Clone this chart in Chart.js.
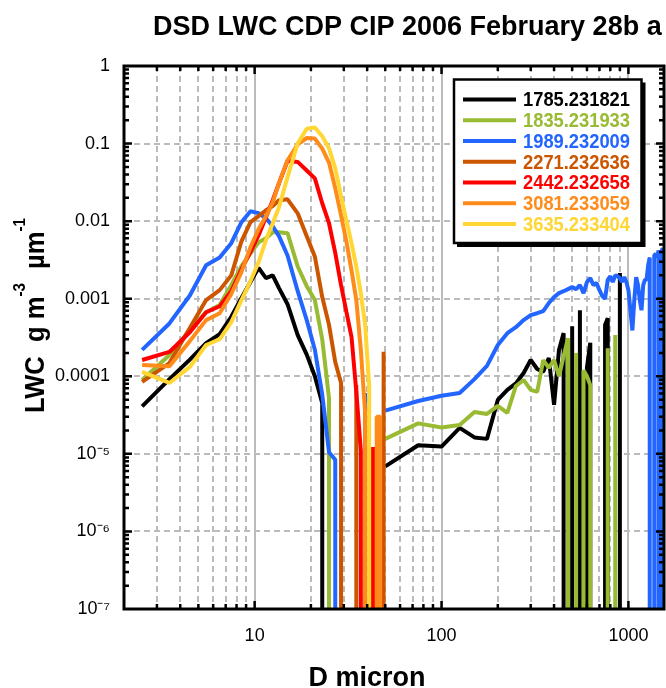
<!DOCTYPE html>
<html>
<head>
<meta charset="utf-8">
<title>DSD LWC CDP CIP 2006 February 28b</title>
<script src="https://cdn.jsdelivr.net/npm/chart.js@4.4.1/dist/chart.umd.min.js"></script>
<style>
  html, body { margin: 0; padding: 0; background: #ffffff; overflow: hidden; }
  #wrap { position: relative; width: 666px; height: 688px; }
  canvas { display: block; }
</style>
</head>
<body>
<div id="wrap"><canvas id="lwc" width="666" height="688"></canvas></div>
<script>
// ---- size bins (micron) ----
const CDP_SIZES = [2.5, 3.5, 4.5, 5.5, 6.5, 7.5, 8.5, 9.5, 10.5, 11.5, 12.5, 13.5,
  15, 17, 19, 21, 23, 25, 27, 29, 31, 33, 35, 37, 39, 41, 43, 45, 47, 49];

const CIP_SIZES = [50, 75, 100, 125, 150, 175, 200, 225, 250, 275,
  300, 325, 350, 375, 400, 425, 450, 475, 500, 525,
  550, 575, 600, 625, 650, 675, 700, 725, 750, 775,
  800, 825, 850, 875, 900, 925, 950, 975, 1000, 1025,
  1050, 1075, 1100, 1125, 1150, 1175, 1200, 1225, 1250, 1275,
  1300, 1325, 1350, 1375, 1400, 1425, 1450, 1475, 1500, 1525,
  1550];

// ---- series (flight time . hhmmss) ----
const SERIES_LABELS = ['1785.231821', '1835.231933', '1989.232009', '2271.232636',
  '2442.232658', '3081.233059', '3635.233404'];
const SERIES_COLORS = ['#000000', '#99bb33', '#2266ff', '#cc5500', '#ff0000', '#ff8c1a', '#ffd633'];

// LWC per size, g m^-3 um^-1 (0 = empty bin)
const CDP_1785 = [4.1e-5, 9.2e-5, 1.64e-4, 2.68e-4, 3.5e-4, 5.85e-4, 1.02e-3, 1.64e-3, 2.5e-3, 1.84e-3,
  2.0e-3, 1.37e-3, 8.5e-4, 3.4e-4, 1.9e-4, 1.0e-4, 4.5e-5, 0, 0, 0,
  0, 0, 0, 0, 0, 0, 0, 0, 0, 0];
const CDP_1835 = [8.95e-5, 1.88e-4, 3.95e-4, 6.7e-4, 8.3e-4, 1.5e-3, 2.63e-3, 3.86e-3, 5.35e-3, 6.0e-3,
  7.2e-3, 7.2e-3, 7.0e-3, 2.6e-3, 1.45e-3, 9.6e-4, 3.0e-4, 5.2e-5, 0, 0,
  0, 0, 0, 0, 0, 0, 0, 0, 0, 0];
const CDP_1989 = [2.19e-4, 4.8e-4, 1.1e-3, 2.7e-3, 3.4e-3, 5.2e-3, 9.7e-3, 0.0134, 0.0127, 0.0109,
  8.6e-3, 6.4e-3, 3.6e-3, 1.25e-3, 5.3e-4, 2.2e-4, 5.8e-5, 1.05e-5, 8.4e-6, 0,
  0, 0, 0, 0, 6.1e-5, 0, 0, 0, 0, 0];
const CDP_2271 = [8.45e-5, 1.48e-4, 4.2e-4, 9.6e-4, 1.29e-3, 2.0e-3, 5.5e-3, 9.7e-3, 0.0116, 0.0138,
  0.0156, 0.0186, 0.0191, 0.0126, 6.4e-3, 3.5e-3, 1.05e-3, 4.6e-4, 1.53e-4, 8.2e-5,
  0, 0, 7.7e-5, 0, 0, 0, 0, 0, 0, 2.07e-4];
const CDP_2442 = [1.62e-4, 2.06e-4, 3.7e-4, 6.7e-4, 8.0e-4, 1.25e-3, 2.4e-3, 4.0e-3, 6.6e-3, 0.0112,
  0.0186, 0.0308, 0.060, 0.058, 0.045, 0.0356, 0.017, 9.4e-3, 3.9e-3, 1.5e-3,
  6.7e-4, 3.2e-4, 6.3e-5, 1.1e-5, 0, 0, 1.23e-5, 0, 1.5e-5, 0];
const CDP_3081 = [1.4e-4, 1.35e-4, 2.84e-4, 5.3e-4, 6.5e-4, 1.15e-3, 2.2e-3, 4.6e-3, 7.9e-3, 0.0116,
  0.0175, 0.031, 0.061, 0.0977, 0.118, 0.116, 0.086, 0.057, 0.0265, 0.0119,
  5.4e-3, 2.3e-3, 9.6e-4, 2.2e-4, 3.4e-5, 0, 0, 3.0e-5, 3.0e-5, 0];
const CDP_3635 = [1.14e-4, 8.2e-5, 1.32e-4, 2.53e-4, 3.0e-4, 5.0e-4, 9.6e-4, 1.69e-3, 2.96e-3, 5.7e-3,
  9.4e-3, 0.0151, 0.037, 0.101, 0.155, 0.161, 0.124, 0.087, 0.048, 0.021,
  0.0101, 5.2e-3, 2.6e-3, 1.18e-3, 4.7e-4, 7.7e-5, 0, 0, 0, 0];

const CIP_1785 = [6.9e-6, 1.29e-5, 1.24e-5, 2.16e-5, 1.63e-5, 1.56e-5, 4.95e-5, 6.7e-5, 8.1e-5, 1.1e-4,
  1.62e-4, 1.24e-4, 1.14e-4, 1.72e-4, 4.3e-5, 2.18e-4, 3.6e-4, 0, 4.4e-4, 0,
  7.1e-4, 0, 1.3e-4, 2.7e-4, 0, 0, 0, 0, 4.6e-4, 5.6e-4,
  0, 0, 0, 0, 2.14e-3, 0, 0, 0, 0, 0,
  0, 0, 0, 0, 0, 0, 0, 0, 0, 0,
  0, 0, 0, 0, 0, 0, 0, 0, 0, 0,
  0];
const CIP_1835 = [1.56e-5, 2.47e-5, 2.19e-5, 2.36e-5, 3.47e-5, 3.27e-5, 4.15e-5, 3.37e-5, 7.5e-5, 8.95e-5,
  6.67e-5, 6.3e-5, 1.62e-4, 1.28e-4, 1.62e-4, 1.0e-4, 1.82e-4, 3.1e-4, 0, 2.0e-4,
  0, 1.2e-4, 1.0e-4, 7.7e-5, 0, 0, 0, 0, 0, 2.3e-4,
  0, 0, 3.4e-4, 0, 0, 0, 0, 0, 0, 0,
  0, 0, 0, 0, 0, 0, 0, 0, 0, 0,
  0, 0, 0, 0, 0, 0, 0, 0, 0, 0,
  0];
const CIP_1989 = [3.6e-5, 4.8e-5, 5.6e-5, 6.1e-5, 9.2e-5, 1.36e-4, 2.53e-4, 3.6e-4, 4.3e-4, 5.3e-4,
  6.15e-4, 6.5e-4, 6.9e-4, 8.8e-4, 1.05e-3, 1.18e-3, 1.25e-3, 1.33e-3, 1.41e-3, 1.33e-3,
  1.5e-3, 1.18e-3, 1.64e-3, 1.84e-3, 1.5e-3, 1.6e-3, 1.29e-3, 1.08e-3, 1.0e-3, 1.75e-3,
  1.95e-3, 1.64e-3, 2.0e-3, 1.95e-3, 1.84e-3, 1.64e-3, 1.9e-3, 1.64e-3, 1.29e-3, 7.1e-4,
  3.9e-4, 9.6e-4, 1.9e-3, 1.5e-3, 9.6e-4, 7.1e-4, 1.5e-3, 1.75e-3, 1.75e-3, 2.7e-3,
  3.4e-3, 0, 0, 3.6e-3, 3.8e-3, 3.4e-3, 4.2e-3, 0, 4.0e-3, 4.5e-3,
  0];

const CDP_VALUES = [CDP_1785, CDP_1835, CDP_1989, CDP_2271, CDP_2442, CDP_3081, CDP_3635];
const CIP_VALUES = [CIP_1785, CIP_1835, CIP_1989, null, null, null, null];

// ---- axes ----
const X_MIN = 2, X_MAX = 1550;
const Y_MIN = 1e-7, Y_MAX = 1;
const X_TICK_VALUES = [10, 100, 1000];
const X_TICK_LABELS = ['10', '100', '1000'];
const Y_TICK_VALUES = [1e-7, 1e-6, 1e-5, 1e-4, 1e-3, 1e-2, 1e-1, 1];
const Y_TICK_LABELS = ['10\u207B\u2077', '10\u207B\u2076', '10\u207B\u2075', '0.0001', '0.001', '0.01', '0.1', '1'];

const TITLE = 'DSD LWC CDP CIP 2006 February 28b a';
const X_TITLE = 'D micron';
const Y_TITLE_PARTS = [['LWC  g m', false], ['-3', true], ['  \u00B5m', false], ['-1', true]];

const FONT = '"Liberation Sans", Arial, Helvetica, sans-serif';

// An empty bin is log(0) = -infinity: the trace drops straight down from its neighbour.
const FLOOR = 1e-12;
function binTrace(sizes, values) {
  const pts = [];
  const last = values.length - 1;
  values.forEach((v, i) => {
    if (v > 0) { pts.push({ x: sizes[i], y: v }); return; }
    if (i > 0 && values[i - 1] > 0) pts.push({ x: sizes[i - 1], y: FLOOR });
    if (i < last && values[i + 1] > 0) pts.push({ x: sizes[i + 1], y: FLOOR });
  });
  return pts;
}
function seriesPoints(cdp, cip) {
  const pts = binTrace(CDP_SIZES, cdp);
  if (cip) {
    pts.push({ x: CIP_SIZES[0], y: null });   // CDP and CIP are separate traces
    pts.push(...binTrace(CIP_SIZES, cip));
  }
  return pts;
}

function logTicks(min, max) {
  const out = [];
  for (let e = Math.floor(Math.log10(min)); e <= Math.ceil(Math.log10(max)); e++) {
    for (let m = 1; m <= 9; m++) {
      const v = m * Math.pow(10, e);
      if (v >= min * 0.999999 && v <= max * 1.000001) out.push(v);
    }
  }
  return out;
}
const isDecade = v => Math.abs(Math.log10(v) - Math.round(Math.log10(v))) < 1e-6;
const sameValue = (a, b) => Math.abs(Math.log10(a) - Math.log10(b)) < 1e-6;
const labelFrom = (values, labels) => v => {
  const j = values.findIndex(t => sameValue(t, v));
  return j < 0 ? '' : labels[j];
};
const tickVal = ctx => (ctx && ctx.tick ? ctx.tick.value : null);

// frame with inward tick marks on all four sides
const framePlugin = {
  id: 'frame',
  afterDatasetsDraw(chart) {
    const { ctx, chartArea: a, scales: { x, y } } = chart;
    ctx.save();
    ctx.strokeStyle = '#000';
    ctx.lineCap = 'butt';
    ctx.lineWidth = 2.5;
    ctx.beginPath();
    x.ticks.forEach(t => {
      const px = x.getPixelForValue(t.value);
      if (px <= a.left + 1 || px >= a.right - 1) return;
      const len = isDecade(t.value) ? 8 : 5;
      ctx.moveTo(px, a.bottom); ctx.lineTo(px, a.bottom - len);
      ctx.moveTo(px, a.top); ctx.lineTo(px, a.top + len);
    });
    y.ticks.forEach(t => {
      const py = y.getPixelForValue(t.value);
      if (py <= a.top + 1 || py >= a.bottom - 1) return;
      const len = isDecade(t.value) ? 8 : 5;
      ctx.moveTo(a.left, py); ctx.lineTo(a.left + len, py);
      ctx.moveTo(a.right, py); ctx.lineTo(a.right - len, py);
    });
    ctx.stroke();
    ctx.lineWidth = 3;
    ctx.strokeRect(a.left, a.top, a.right - a.left, a.bottom - a.top);
    ctx.restore();
  }
};

// boxed legend with drop shadow inside the plot
const legendPlugin = {
  id: 'legendBox',
  afterDraw(chart) {
    const { ctx } = chart;
    const L = 454, T = 79.5, W = 187.5, H = 163.5, SH = 3;
    ctx.save();
    ctx.fillStyle = '#000';
    ctx.fillRect(L + SH, T + SH, W + 1, H + 1);
    ctx.fillStyle = '#fff';
    ctx.fillRect(L, T, W, H);
    ctx.lineWidth = 2.5;
    ctx.strokeStyle = '#000';
    ctx.strokeRect(L, T, W, H);
    ctx.font = `bold 21px ${FONT}`;
    ctx.textBaseline = 'middle';
    ctx.textAlign = 'left';
    chart.data.datasets.forEach((ds, i) => {
      const yy = 99.5 + i * 20.75;
      ctx.strokeStyle = ds.borderColor;
      ctx.lineWidth = 4;
      ctx.beginPath(); ctx.moveTo(463, yy); ctx.lineTo(516, yy); ctx.stroke();
      ctx.fillStyle = ds.borderColor;
      ctx.fillText(ds.label, 523, yy + 1, 107);
    });
    ctx.restore();
  }
};

// chart title and axis titles (y title carries superscripts)
const titlePlugin = {
  id: 'titles',
  afterDraw(chart) {
    const { ctx } = chart;
    ctx.save();
    ctx.fillStyle = '#000';
    ctx.textBaseline = 'alphabetic';
    ctx.font = `bold 27px ${FONT}`;
    ctx.textAlign = 'left';
    ctx.fillText(TITLE, 153, 35, 511);
    ctx.textAlign = 'center';
    ctx.fillText(X_TITLE, 367, 686);

    const big = `bold 27px ${FONT}`, small = `bold 16px ${FONT}`;
    let total = 0;
    const parts = Y_TITLE_PARTS.map(([text, sup]) => {
      ctx.font = sup ? small : big;
      const w = ctx.measureText(text).width;
      total += w;
      return { text, sup, w };
    });
    const k = Math.min(1, 195 / total);
    ctx.translate(44, 413);
    ctx.rotate(-Math.PI / 2);
    ctx.scale(k, 1);
    ctx.textAlign = 'left';
    let cx = 0;
    parts.forEach(p => {
      ctx.font = p.sup ? small : big;
      ctx.fillText(p.text, cx, p.sup ? -19 : 0);
      cx += p.w;
    });
    ctx.restore();
  }
};

const datasets = SERIES_LABELS.map((label, i) => ({
  label,
  data: seriesPoints(CDP_VALUES[i], CIP_VALUES[i]),
  borderColor: SERIES_COLORS[i],
  backgroundColor: SERIES_COLORS[i],
  borderWidth: 4,
  borderJoinStyle: 'bevel',
  pointRadius: 0,
  pointHoverRadius: 0,
  tension: 0,
  fill: false,
  spanGaps: false,
  clip: 0,
  order: SERIES_LABELS.length - i
}));

Chart.defaults.font.family = FONT;
Chart.defaults.color = '#000';

new Chart(document.getElementById('lwc'), {
  type: 'line',
  data: { datasets },
  options: {
    responsive: false,
    animation: false,
    devicePixelRatio: 1,
    events: [],
    layout: { padding: { top: 66, right: 2, bottom: 0, left: 0 } },
    plugins: {
      legend: { display: false },
      tooltip: { enabled: false },
      title: { display: false }
    },
    scales: {
      x: {
        type: 'logarithmic',
        min: X_MIN,
        max: X_MAX,
        afterBuildTicks: s => { s.ticks = logTicks(X_MIN, X_MAX).map(v => ({ value: v })); },
        afterFit: s => { s.height = 79; },
        grid: {
          drawTicks: false,
          lineWidth: 2,
          color: '#bbbbbb'
        },
        border: {
          display: false,
          dash: ctx => { const v = tickVal(ctx); return v && !isDecade(v) ? [6, 4] : []; }
        },
        ticks: {
          autoSkip: false,
          maxRotation: 0,
          padding: 16,
          color: '#000',
          font: { size: 18, family: FONT },
          callback: labelFrom(X_TICK_VALUES, X_TICK_LABELS)
        }
      },
      y: {
        type: 'logarithmic',
        min: Y_MIN,
        max: Y_MAX,
        afterBuildTicks: s => { s.ticks = logTicks(Y_MIN, Y_MAX).map(v => ({ value: v })); },
        afterFit: s => { s.width = 124; },
        grid: {
          drawTicks: false,
          lineWidth: 2,
          color: ctx => { const v = tickVal(ctx); return v && isDecade(v) ? '#bbbbbb' : 'rgba(0,0,0,0)'; }
        },
        border: { display: false, dash: [6, 4] },
        ticks: {
          autoSkip: false,
          padding: 14,
          color: '#000',
          font: { size: 18, family: FONT },
          callback: labelFrom(Y_TICK_VALUES, Y_TICK_LABELS)
        }
      }
    }
  },
  plugins: [framePlugin, legendPlugin, titlePlugin]
});
</script>
</body>
</html>
